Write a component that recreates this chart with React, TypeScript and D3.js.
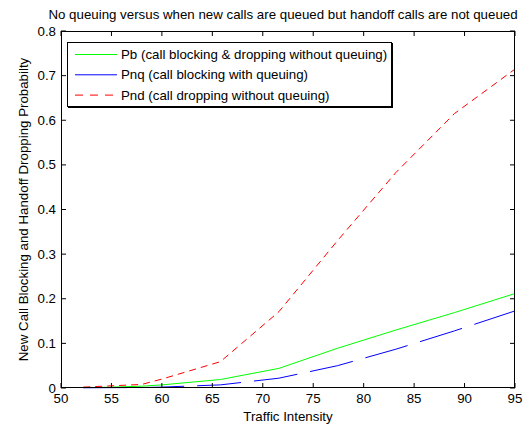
import React from "react";
import * as d3 from "d3";

// traffic intensity sample points and the three probability curves
const intensity = [52.2, 54.2, 58.0, 60.0, 65.8, 71.6, 77.4, 83.2, 89.0, 94.9];
const pb = [0.001, 0.0015, 0.004, 0.007, 0.019, 0.044, 0.089, 0.13, 0.169, 0.211];
const pnq = [0.0005, 0.0007, 0.001, 0.002, 0.007, 0.022, 0.05, 0.087, 0.128, 0.172];
const pnd = [0.002, 0.004, 0.008, 0.02, 0.059, 0.171, 0.33, 0.483, 0.615, 0.713];

const xTicks = [50, 55, 60, 65, 70, 75, 80, 85, 90, 95];
const yTicks = [0, 0.1, 0.2, 0.3, 0.4, 0.5, 0.6, 0.7, 0.8];

const seriesNames = [
  "Pb (call blocking & dropping without queuing)",
  "Pnq (call blocking with queuing)",
  "Pnd (call dropping without queuing)",
];
const seriesColors = ["#00ff00", "#0000ff", "#ff0000"];
const seriesDash = [null, "44,13", "7,5"];
const legendDash = [null, null, "8,7"];

const W = 530;
const H = 426;
const margin = { left: 61, right: 15, top: 31, bottom: 38 };
const font = "'Liberation Sans', Arial, Helvetica, sans-serif";
const fs = 13.3;

export default function App() {
  const x = d3.scaleLinear().domain([50, 95]).range([margin.left, W - margin.right]);
  const y = d3.scaleLinear().domain([0, 0.8]).range([H - margin.bottom, margin.top]);

  const line = d3
    .line<number>()
    .x((_, i) => x(intensity[i]))
    .y((d) => y(d));

  const series = [pb, pnq, pnd];
  const x0 = x.range()[0];
  const x1 = x.range()[1];
  const yb = y.range()[0];
  const yt = y.range()[1];
  const tick = 5;

  return (
    <div style={{ position: "absolute", left: 0, top: 0 }}>
      <svg width={W} height={H} style={{ display: "block", background: "#fff" }} fontFamily={font}>
        <text x={(x0 + x1) / 2 - 5} y={19} fontSize={fs} textAnchor="middle">
          No queuing versus when new calls are queued but handoff calls are not queued
        </text>

        {series.map((s, i) => (
          <path
            key={i}
            d={line(s) || ""}
            fill="none"
            stroke={seriesColors[i]}
            strokeWidth={1}
            strokeDasharray={seriesDash[i] || undefined}
          />
        ))}

        {/* ticks on all four sides, pointing in */}
        {xTicks.map((t) => (
          <g key={"x" + t}>
            <line x1={x(t)} x2={x(t)} y1={yb} y2={yb - tick} stroke="#000" />
            <line x1={x(t)} x2={x(t)} y1={yt} y2={yt + tick} stroke="#000" />
            <text x={x(t)} y={yb + 15} fontSize={fs} textAnchor="middle">
              {t}
            </text>
          </g>
        ))}
        {yTicks.map((t) => (
          <g key={"y" + t}>
            <line x1={x0} x2={x0 + tick} y1={y(t)} y2={y(t)} stroke="#000" />
            <line x1={x1} x2={x1 - tick} y1={y(t)} y2={y(t)} stroke="#000" />
            <text x={x0 - 5} y={y(t) + 4.5} fontSize={fs} textAnchor="end">
              {t === 0 ? "0" : d3.format(".1f")(t)}
            </text>
          </g>
        ))}
        <rect x={x0 + 0.5} y={yt + 0.5} width={x1 - x0 - 1} height={yb - yt - 1} fill="none" stroke="#000" />

        <text x={(x0 + x1) / 2} y={H - 5} fontSize={fs} textAnchor="middle">
          Traffic Intensity
        </text>
        <text
          transform={`translate(28,${(yb + yt) / 2}) rotate(-90)`}
          fontSize={fs}
          textAnchor="middle"
        >
          New Call Blocking and Handoff Dropping Probabilty
        </text>

        {/* legend */}
        <g>
          <rect x={67.5} y={42.5} width={324} height={64} fill="#fff" stroke="#000" />
          <line x1={68} x2={392.5} y1={107.5} y2={107.5} stroke="#000" />
          <line x1={392.5} x2={392.5} y1={43} y2={108} stroke="#000" />
          {seriesNames.map((name, i) => {
            const ly = 54.5 + i * 20.3;
            return (
              <g key={name}>
                <line
                  x1={75}
                  x2={117}
                  y1={ly}
                  y2={ly}
                  stroke={seriesColors[i]}
                  strokeDasharray={legendDash[i] || undefined}
                />
                <text x={121} y={ly + 4.5} fontSize={fs}>
                  {name}
                </text>
              </g>
            );
          })}
        </g>
      </svg>
    </div>
  );
}
